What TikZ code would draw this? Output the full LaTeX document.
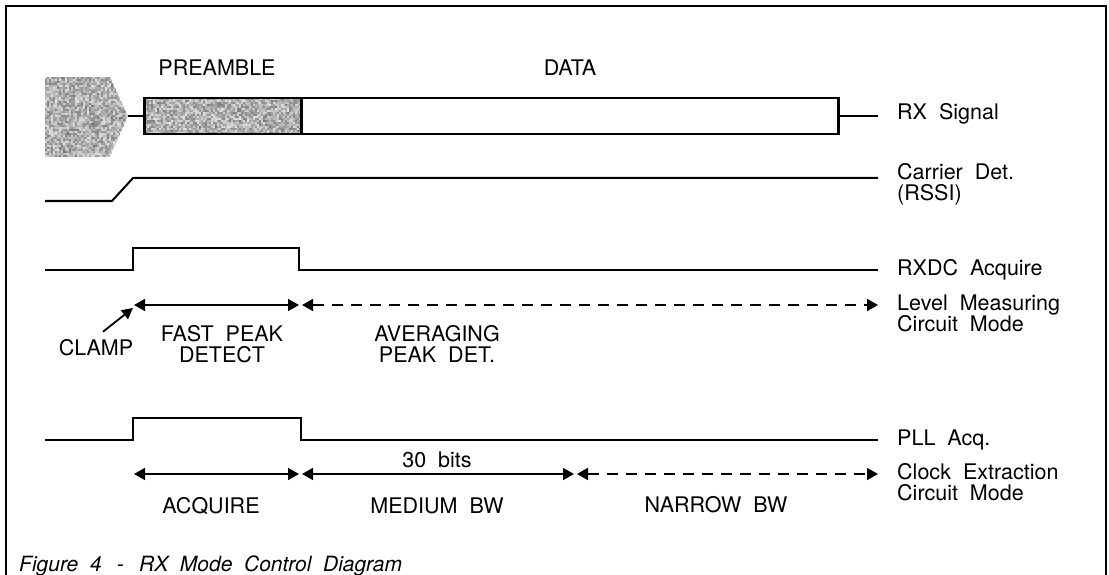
\documentclass[tikz,border=0pt]{standalone}
\usepackage{fontspec}
\setmainfont{TeX Gyre Heros}[WordSpace=2.0]
\usetikzlibrary{arrows.meta,calc}
\newcommand\noisefill[4]{%
  \foreach \i in {0,...,#3}{\foreach \j in {0,...,#4}{%
    \pgfmathsetmacro\gval{int(10+36*rnd+14*rnd*rnd)}%
    \fill[black!\gval] ({#1+2*\i},{#2+2*\j}) rectangle ++(2,2);}}}
\begin{document}
\begin{tikzpicture}[x=1pt,y=-1pt,
  lbl/.style={font=\fontsize{21.5}{21}\selectfont, inner sep=0pt},
  lbltwo/.style={lbl, align=left},
  sig/.style={line width=2pt},
  boxline/.style={draw, line width=2.6pt, inner sep=0pt, minimum height=36pt},
  both/.style={{Triangle[length=11pt,width=12pt]}-{Triangle[length=11pt,width=12pt]}, line width=1.8pt},
  dashline/.style={dash pattern=on 11pt off 8pt},
]
\useasboundingbox (0,0) rectangle (1109,575);
% frame
\draw[line width=1.2pt] (6,575) -- (6,6) -- (1106,6) -- (1106,575);

% time points
\coordinate (L) at (45,0);
\coordinate (Tr) at (112,0);
\coordinate (T1) at (133,0);
\coordinate (T2) at (299,0);
\coordinate (T2b) at (302,0);
\coordinate (T3) at (574,0);
\coordinate (T3b) at (577,0);
\coordinate (R) at (878,0);
% rows
\coordinate (rx) at (0,116);
\coordinate (cdLo) at (0,201);
\coordinate (cdHi) at (0,178);
\coordinate (dcLo) at (0,270);
\coordinate (dcHi) at (0,248);
\coordinate (lm) at (0,305);
\coordinate (plLo) at (0,440);
\coordinate (plHi) at (0,418);
\coordinate (ce) at (0,474);

\pgfmathsetseed{42}
% noise before the preamble
\begin{scope}
  \clip (45,77) -- (110,77) -- (128,116) -- (110,157) -- (45,157) -- cycle;
  \noisefill{45}{77}{42}{40}
\end{scope}
\coordinate (blobTip) at (128,116);
% preamble texture
\begin{scope}
  \clip (143,98) rectangle (300,134);
  \noisefill{143}{98}{79}{18}
\end{scope}
\node[boxline, minimum width=157pt, anchor=west] (pre) at (143,116) {};
\node[boxline, minimum width=537pt, anchor=west] (data) at (300,116) {};
\draw[sig] (blobTip) -- (pre.west);
\draw[sig] (data.east) -- (R |- rx);

\node[lbl, anchor=base] (preLbl) at (217,75.5) {PREAMBLE};
\node[lbl, anchor=base] (dataLbl) at (570,75.5) {DATA};
\node[lbl, anchor=base west] (rxLbl) at (897,119.5) {RX Signal};

% carrier detect
\draw[sig] (L |- cdLo) -- (Tr |- cdLo) -- (T1 |- cdHi) -- (R |- cdHi);
\node[lbltwo, anchor=north west] (cdLbl) at (897,163) {Carrier Det.\\(RSSI)};

% RXDC acquire
\draw[sig] (L |- dcLo) -- (T1 |- dcLo) -- (T1 |- dcHi) -- (T2 |- dcHi) -- (T2 |- dcLo) -- (R |- dcLo);
\node[lbl, anchor=base west] (dcLbl) at (897,275) {RXDC Acquire};

% level measuring circuit mode
\draw[both] ([xshift=1pt]T1 |- lm) -- (T2 |- lm);
\draw[both, dashline] (T2b |- lm) -- (R |- lm);
\node[lbltwo, anchor=north west] (lmLbl) at (897,295) {Level Measuring\\Circuit Mode};

\node[lbl, anchor=base] (clamp) at (96,355) {CLAMP};
\coordinate (clampTip) at (133,308);
\draw[line width=1.8pt, -{Triangle[length=11pt,width=11pt]}] ($(clamp.north)+(7,-7)$) -- (clampTip);
\node[lbl, align=center, anchor=north] (fpd) at (222,325.5) {FAST PEAK\\DETECT};
\node[lbl, align=center, anchor=north] (apd) at (437,325.5) {AVERAGING\\PEAK DET.};

% PLL acquire
\draw[sig] (L |- plLo) -- (T1 |- plLo) -- (T1 |- plHi) -- ([xshift=2pt]T2 |- plHi) -- ([xshift=2pt]T2 |- plLo) -- (R |- plLo);
\node[lbl, anchor=base west] (plLbl) at (897,445) {PLL Acq.};

% clock extraction circuit mode
\draw[both] ([xshift=1pt]T1 |- ce) -- (T2 |- ce);
\draw[both] (T2b |- ce) -- (T3 |- ce);
\draw[both, dashline] (T3b |- ce) -- (R |- ce);
\node[lbltwo, anchor=north west] (ceLbl) at (897,463) {Clock Extraction\\Circuit Mode};
\node[lbl, anchor=base] (bits) at (437,467) {30 bits};
\node[lbl, anchor=base] (acq) at (211,513) {ACQUIRE};
\node[lbl, anchor=base] (mbw) at (437,513) {MEDIUM BW};
\node[lbl, anchor=base] (nbw) at (716,512) {NARROW BW};

% caption
\node[lbl, anchor=base west, font=\fontsize{21}{21}\selectfont\itshape] (cap) at (19,571) {Figure 4 \,-\, RX Mode Control Diagram};
\end{tikzpicture}
\end{document}
